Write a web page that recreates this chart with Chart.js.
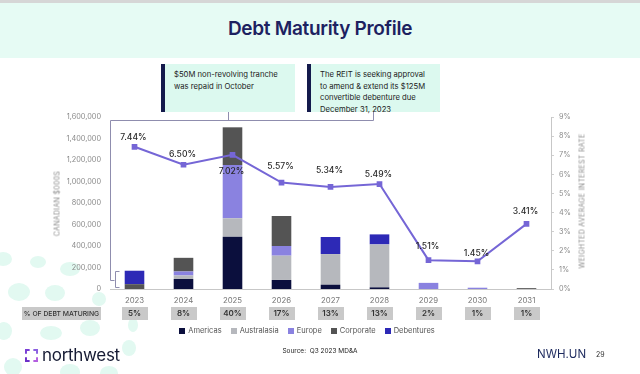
<!DOCTYPE html>
<html>
<head>
<meta charset="utf-8">
<script src="https://cdn.jsdelivr.net/npm/chart.js@4.4.0/dist/chart.umd.min.js"></script>
<style>
  html,body{margin:0;padding:0;}
  body{width:640px;height:374px;overflow:hidden;background:#fff;position:relative;font-family:Inter,"Open Sans",sans-serif;}
  .abs{position:absolute;}
  #strip{left:0;top:0;width:640px;height:3px;background:#d6d6d6;}
  #band{left:0;top:3px;width:640px;height:55px;background:#e6fbf4;}
  #title{left:0;top:17px;width:640px;text-align:center;font-size:19px;font-weight:600;color:#1d2160;letter-spacing:-0.3px;}
  .callout{top:64px;height:48px;background:#dcf9ef;border-left:4px solid #141a4c;box-sizing:border-box;padding:5px 0 0 9px;font-size:7.7px;line-height:11.5px;color:#222;}
  .dot{position:absolute;border-radius:50%;background:#e2f9f1;}
  #legend{left:0;top:326px;width:614px;display:flex;justify-content:center;gap:9px;font-size:7.5px;color:#555;}
  #legend span.sw{display:inline-block;width:6px;height:6px;margin-right:3px;vertical-align:-0.5px;}
  #src{left:0;top:347px;width:640px;text-align:center;font-size:6.5px;color:#222;}
  #logo{left:25px;top:345px;font-size:17px;color:#151a33;letter-spacing:-0.3px;}
  #ticker{left:537px;top:347px;font-size:11.5px;color:#1d2a5e;}
  #page{left:596px;top:350px;font-size:7px;color:#333;}
  .axt{font-size:7px;color:#8a8a8a;letter-spacing:0.3px;white-space:nowrap;transform:rotate(-90deg);transform-origin:center center;text-align:center;}
  canvas{position:absolute;left:0;top:0;}
</style>
</head>
<body>
<div class="dot" style="left:-6px;top:252px;width:18px;height:14px;"></div>
<div class="dot" style="left:30px;top:256px;width:16px;height:12px;"></div>
<div class="dot" style="left:60px;top:262px;width:20px;height:14px;"></div>
<div class="dot" style="left:8px;top:283px;width:22px;height:18px;"></div>
<div class="dot" style="left:45px;top:285px;width:20px;height:16px;"></div>
<div class="dot" style="left:92px;top:292px;width:14px;height:14px;"></div>
<div class="dot" style="left:-4px;top:322px;width:16px;height:18px;"></div>
<div class="dot" style="left:40px;top:326px;width:22px;height:14px;"></div>
<div class="dot" style="left:80px;top:320px;width:20px;height:16px;"></div>
<div class="dot" style="left:122px;top:340px;width:14px;height:16px;"></div>
<div class="dot" style="left:4px;top:358px;width:18px;height:18px;"></div>
<div class="dot" style="left:60px;top:364px;width:20px;height:16px;"></div>
<div class="dot" style="left:100px;top:366px;width:18px;height:14px;"></div>
<div class="dot" style="left:128px;top:318px;width:10px;height:14px;"></div>

<div id="strip" class="abs"></div>
<div id="band" class="abs"></div>
<div id="title" class="abs">Debt Maturity Profile</div>
<div class="abs callout" style="left:161px;width:134px;">$50M non-revolving tranche<br>was repaid in October</div>
<div class="abs callout" style="left:307px;width:133px;">The REIT is seeking approval<br>to amend &amp; extend its $125M<br>convertible debenture due<br>December 31, 2023</div>

<canvas id="c" width="640" height="374"></canvas>

<div class="abs axt" id="ytl" style="left:7px;top:199px;width:100px;margin-left:0;">CANADIAN $000S</div>
<div class="abs axt" id="ytr" style="left:522px;top:204px;width:120px;">WEIGHTED AVERAGE INTEREST RATE</div>

<div id="legend" class="abs"></div>
<div id="src" class="abs">Source:&nbsp; Q3 2023 MD&amp;A</div>
<div id="logo" class="abs"><svg width="13" height="13" viewBox="0 0 14 14" style="vertical-align:-1px;margin-right:4px;"><path d="M1 5V1H5" fill="none" stroke="#7a3fd6" stroke-width="2.2"/><path d="M9 1H13V5" fill="none" stroke="#8a5fe0" stroke-width="2.2"/><path d="M1 9V13H5" fill="none" stroke="#6d2fc9" stroke-width="2.2"/><path d="M9 13H13V9" fill="none" stroke="#b45fe0" stroke-width="2.2"/></svg>northwest</div>
<div id="ticker" class="abs">NWH.UN</div>
<div id="page" class="abs">29</div>

<script>
const years = ['2023','2024','2025','2026','2027','2028','2029','2030','2031'];
const americas    = [0, 93000, 487000, 84000, 40000, 15000, 0, 0, 0];
const australasia = [0, 33000, 171000, 226000, 285000, 400000, 0, 0, 0];
const europe      = [0, 37000, 495000, 90000, 0, 0, 57000, 12000, 0];
const corporate   = [45000, 127000, 351000, 279000, 0, 0, 0, 0, 8000];
const debentures  = [125000, 0, 0, 0, 159000, 93000, 0, 0, 0];
const interestRate = [7.44, 6.50, 7.02, 5.57, 5.34, 5.49, 1.51, 1.45, 3.41];
const pctMaturing = ['5%','8%','40%','17%','13%','13%','2%','1%','1%'];
const leftTicks = [0, 200000, 400000, 600000, 800000, 1000000, 1200000, 1400000, 1600000];
const rightTicks = [0,1,2,3,4,5,6,7,8,9];

// label placement style (vertical offsets of rate labels from points)
const rateLabelDy = [-9, -10, 17, -16, -17, -10, -14, -8, -12];

const seriesNames = ['Americas','Australasia','Europe','Corporate','Debentures'];
const seriesColors = ['#0b0f3d','#b6b8bd','#8a82e0','#545454','#2d29b6'];
const seriesData = [americas, australasia, europe, corporate, debentures];

const FONT = 'Inter, "Open Sans", sans-serif';

// legend
const lg = document.getElementById('legend');
seriesNames.forEach((n,i)=>{
  const d=document.createElement('div');
  d.innerHTML='<span class="sw" style="background:'+seriesColors[i]+'"></span>'+n;
  lg.appendChild(d);
});

const extras = {
  id:'extras',
  afterDatasetsDraw(chart){
    const ctx=chart.ctx;
    const meta=chart.getDatasetMeta(seriesNames.length);
    ctx.save();
    ctx.font='500 8.6px '+FONT;
    ctx.fillStyle='#2a2a2a';
    ctx.textAlign='center';
    ctx.textBaseline='middle';
    meta.data.forEach((pt,i)=>{
      ctx.fillText(interestRate[i].toFixed(2)+'%', pt.x-1, pt.y+rateLabelDy[i]);
    });
    ctx.restore();
  },
  afterDraw(chart){
    const ctx=chart.ctx, ca=chart.chartArea;
    const xs=chart.scales.x, ys=chart.scales.y;
    ctx.save();
    ctx.strokeStyle='#8f8dae';
    ctx.lineWidth=1;
    const L=Math.round(ca.left)+0.5;
    const top=120.5;
    const tot0 = seriesData.reduce((s,a)=>s+a[0],0);
    const bTop=Math.round(ys.getPixelForValue(tot0))+0.5;
    const bBot=Math.round(ys.getPixelForValue(0))-1.5;
    const bMid=Math.round((bTop+bBot)/2)+0.5;
    const bx=L+5;
    ctx.beginPath();
    ctx.moveTo(373.5,112); ctx.lineTo(373.5,top); ctx.lineTo(L,top); ctx.lineTo(L,bMid); ctx.lineTo(bx-1,bMid);
    ctx.moveTo(228.5,112); ctx.lineTo(228.5,top);
    ctx.moveTo(bx+4,bTop); ctx.lineTo(bx,bTop); ctx.lineTo(bx,bBot); ctx.lineTo(bx+4,bBot);
    ctx.stroke();
    ctx.fillStyle='#c9c9c9';
    ctx.fillRect(22,307,79,13);
    ctx.fillStyle='#333';
    ctx.font='500 6.8px '+FONT;
    ctx.textAlign='center'; ctx.textBaseline='middle';
    ctx.fillText('% OF DEBT MATURING',61.5,313.8);
    ctx.font='600 8px '+FONT;
    pctMaturing.forEach((p,i)=>{
      const x=xs.getPixelForValue(i);
      ctx.fillStyle='#c9c9c9';
      ctx.fillRect(Math.round(x-13),307,26,13);
      ctx.fillStyle='#333';
      ctx.fillText(p,x,313.8);
    });
    ctx.restore();
  }
};

const datasets = seriesNames.map((n,i)=>({
  type:'bar', label:n, data:seriesData[i], backgroundColor:seriesColors[i],
  stack:'debt', yAxisID:'y', order:2, categoryPercentage:1, barPercentage:0.4
}));
datasets.push({
  type:'line', label:'Weighted average interest rate', data:interestRate, yAxisID:'y1', order:0,
  borderColor:'#7566d6', backgroundColor:'#7566d6', borderWidth:2, pointStyle:'rect',
  pointRadius:2.6, tension:0
});

new Chart(document.getElementById('c'),{
  type:'bar',
  data:{labels:years, datasets},
  plugins:[extras],
  options:{
    responsive:false, animation:false, devicePixelRatio:1,
    layout:{padding:{top:117,left:0,right:0,bottom:0}},
    plugins:{legend:{display:false}, tooltip:{enabled:false}},
    scales:{
      x:{
        stacked:true, grid:{display:false, drawTicks:false},
        border:{display:true,color:'#c7c7c7'},
        ticks:{color:'#777',font:{family:FONT,size:7.8},padding:7,maxRotation:0},
        afterFit(s){s.height=85;}
      },
      y:{
        position:'left', stacked:true, min:0, max:1600000,
        afterBuildTicks(s){s.ticks=leftTicks.map(v=>({value:v}));},
        grid:{display:false, drawTicks:false}, border:{display:false},
        ticks:{color:'#8a8a8a',font:{family:FONT,size:7.3},padding:9,
          callback:v=>v.toLocaleString('en-US')},
        afterFit(s){s.width=110;}
      },
      y1:{
        position:'right', min:0, max:9,
        afterBuildTicks(s){s.ticks=rightTicks.map(v=>({value:v}));},
        grid:{display:true, drawOnChartArea:false, drawTicks:true, tickLength:3, color:'#cfcfcf'},
        border:{display:true,color:'#c7c7c7'},
        ticks:{color:'#8a8a8a',font:{family:FONT,size:7.3},padding:5,callback:v=>v+'%'},
        afterFit(s){s.width=89;}
      }
    }
  }
});
</script>
</body>
</html>
